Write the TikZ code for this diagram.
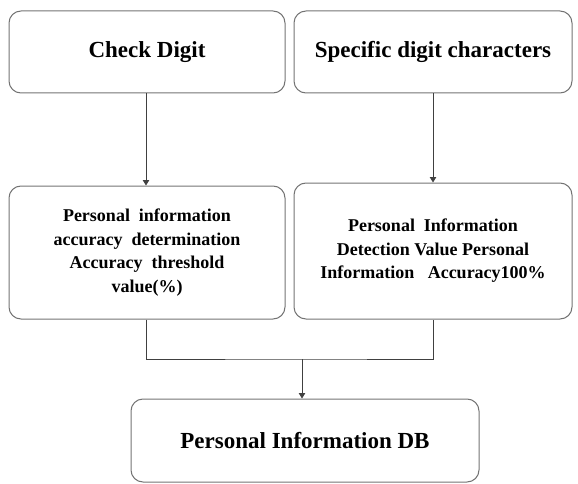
\documentclass[tikz,border=0pt]{standalone}
\usepackage{fontspec}
\setmainfont{Liberation Serif}
\usetikzlibrary{arrows.meta}
\begin{document}
\begin{tikzpicture}[x=1pt,y=-1pt,
  box/.style={draw=black!55, line width=1pt, rounded corners=12pt, inner sep=0pt},
  big/.style={font=\bfseries\fontsize{23}{27}\selectfont, align=center},
  small/.style={font=\bfseries\fontsize{18}{23.5}\selectfont, align=center},
  conn/.style={draw=black!75, line width=0.9pt},
  arr/.style={conn, -{Triangle[width=6.5pt,length=5.5pt]}}]
\useasboundingbox (0,0) rectangle (578,484);
\node[box, big, minimum width=276pt, minimum height=82pt] (cd) at (147,52) {Check Digit};
\node[box, big, minimum width=278pt, minimum height=82pt] (sd) at (433,52) {Specific digit characters};
\node[box, small, minimum width=276pt, minimum height=133pt] (acc) at (147,252.5)
  {Personal\ \ information\\accuracy\ \ determination\\Accuracy\ \ threshold\\value(\%)};
\node[box, small, minimum width=278pt, minimum height=136pt] (det) at (433,251)
  {Personal\ \ Information\\Detection Value Personal\\Information\ \ \ Accuracy100\%};
\node[box, big, minimum width=348pt, minimum height=83pt] (db) at (305,440.5) {Personal Information DB};
\coordinate (j) at (302,359);
\draw[arr] (cd.south -| 146,0) -- (acc.north -| 146,0);
\draw[arr] (sd.south) -- (det.north);
\draw[conn] (acc.south -| 146,0) |- (j) -| (det.south);
\draw[arr] (j) -- (j |- db.north);
\end{tikzpicture}
\end{document}
